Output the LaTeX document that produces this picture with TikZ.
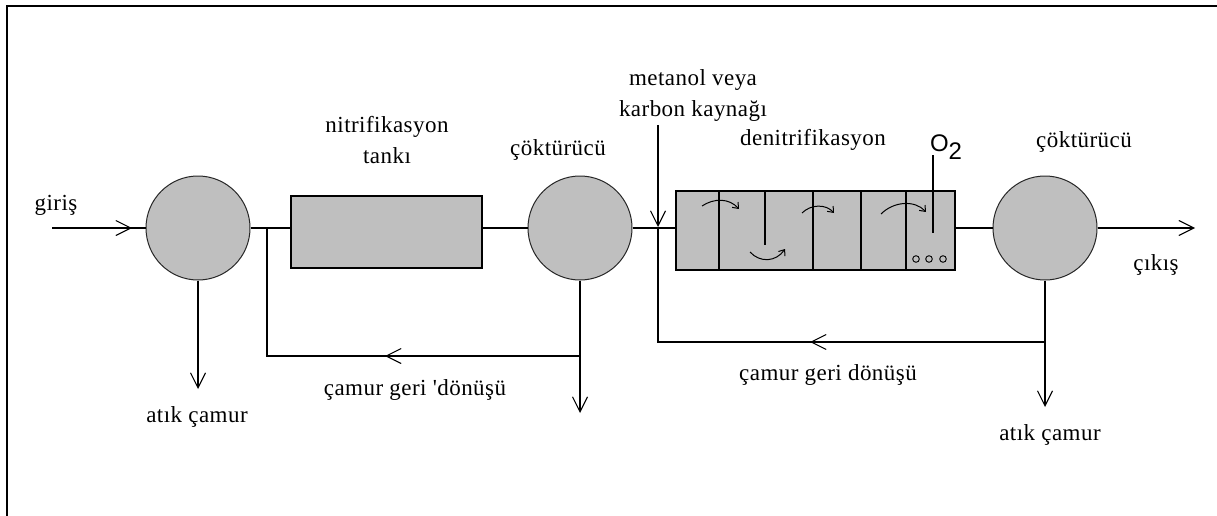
\documentclass[tikz,border=0pt]{standalone}
\usepackage{fontspec}
\newfontfamily\lblfont{Liberation Serif}[LetterSpace=2]
\newfontfamily\oxfont{Liberation Sans}
\usetikzlibrary{positioning,arrows.meta}

\begin{document}
\begin{tikzpicture}[x=1pt,y=-1pt,
    every node/.style={inner sep=0pt},
    settler/.style={circle,draw=black!85,line width=1pt,fill=black!25,minimum size=104pt},
    tank/.style={rectangle,draw=black,line width=1.2pt,fill=black!25},
    txt/.style={font=\lblfont\fontsize{23}{31}\selectfont,align=center},
    pipe/.style={line width=1.3pt},
    flow/.style={pipe,-{Straight Barb[length=15pt,width=15pt,line width=1.1pt]}},
    curl/.style={line width=1pt,-{Straight Barb[length=5pt,width=8pt,line width=1pt]}}]
			\useasboundingbox (0,0) rectangle (1217,516);
			%frame
			\draw[line width=2.4pt] (7,516) -- (7,6) -- (1217,6);

			%settlers
			\node[settler] (s1) at (198,228) {};
			\node[settler] (s2) at (580,228) {};
			\node[settler] (s3) at (1045,228) {};

			%tanks
			\node[tank,minimum width=191pt,minimum height=72pt] (t1) at (386.5,232) {};
			\node[tank,minimum width=279pt,minimum height=79pt] (t2) at (815.5,230.5) {};

			%points
			\coordinate (in) at (52,228);
			\coordinate (inTip) at (132,228);
			\coordinate (j1) at (267,228);
			\coordinate (r1) at (267,356);
			\coordinate (r1Tip) at (385,356);
			\coordinate (j2) at (658,228);
			\coordinate (src) at (658,125);
			\coordinate (srcTip) at (658,227);
			\coordinate (r2) at (658,342);
			\coordinate (r2Tip) at (810,342);
			\coordinate (w1) at (198,389);
			\coordinate (w2) at (580,413);
			\coordinate (w3) at (1045,407);
			\coordinate (out) at (1195,228);
			\coordinate (o2) at (933,155);

			%pipes
			\draw[pipe] (in) -- (s1.west);
			\draw[flow] (in) -- (inTip);
			\draw[pipe] (s1.east) -- (t1.west |- s1.east);
			\draw[pipe] (t1.east |- s2.west) -- (s2.west);
			\draw[pipe] (s2.east) -- (t2.west |- s2.east);
			\draw[pipe] (t2.east |- s3.west) -- (s3.west);
			\draw[flow] (s3.east) -- (out);
			\draw[flow] (src) -- (srcTip);

			%waste sludge
			\draw[flow] (s1.south) -- (w1);
			\draw[flow] (s2.south) -- (w2);
			\draw[flow] (s3.south) -- (w3);

			%sludge return
			\draw[pipe] (j1) -- (r1) -- (s2.south |- r1);
			\draw[flow] (s2.south |- r1) -- (r1Tip);
			\draw[pipe] (j2) -- (r2) -- (s3.south |- r2);
			\draw[flow] (s3.south |- r2) -- (r2Tip);

			%inside of the denitrification tank
			\foreach \x in {719,813,861,906} \draw[pipe] (\x,191) -- (\x,270);
			\draw[pipe] (765,191) -- (765,245);
			\draw[pipe] (o2) -- (933,233);
			\foreach \x in {916,929,943} \draw[line width=0.9pt] (\x,259) circle (3.3pt);
			\draw[curl] (702,206) .. controls (714,198) and (729,198) .. (739,209);
			\draw[curl] (750,252) .. controls (760,263) and (776,262) .. (785,249);
			\draw[curl] (802,213) .. controls (811,204) and (826,204) .. (834,213);
			\draw[curl] (881,214) .. controls (894,201) and (915,200) .. (926,212);

			%labels
			\node[txt] (lIn) at (56,205) {giriş};
			\node[txt] (lW1) at (197,417) {atık çamur};
			\node[txt] (lT1) at (387,140) {nitrifikasyon\\tankı};
			\node[txt] (lS2) at (558,150) {çöktürücü};
			\node[txt] (lSrc) at (693,96) {metanol veya\\karbon kaynağı};
			\node[txt] (lT2) at (813,140) {denitrifikasyon};
			\node[font=\oxfont\fontsize{24}{28}\selectfont] (lO2) at (946,147) {O\raisebox{-8pt}{2}};
			\node[txt] (lS3) at (1084,142) {çöktürücü};
			\node[txt] (lOut) at (1156,265) {çıkış};
			\node[txt] (lR1) at (415,390) {çamur geri 'dönüşü};
			\node[txt] (lR2) at (828,375) {çamur geri dönüşü};
			\node[txt] (lW3) at (1050,435) {atık çamur};
		\end{tikzpicture}
\end{document}
